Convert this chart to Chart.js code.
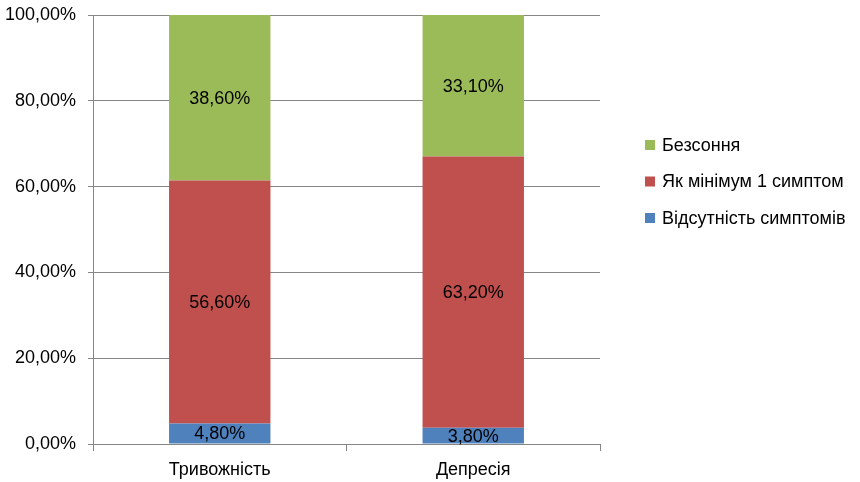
<!DOCTYPE html>
<html>
<head>
<meta charset="utf-8">
<script src="https://cdn.jsdelivr.net/npm/chart.js@4"></script>
<style>
  html, body { margin: 0; padding: 0; background: #fff; }
  #wrap { width: 860px; height: 482px; }
</style>
</head>
<body>
<div id="wrap"><canvas id="chart"></canvas></div>
<script>
const categories = ['Тривожність', 'Депресія'];
const seriesNames = ['Відсутність симптомів', 'Як мінімум 1 симптом', 'Безсоння'];
const noSymptoms = [4.8, 3.8];
const atLeastOne = [56.6, 63.2];
const insomnia = [38.6, 33.1];
const yTicks = [0, 20, 40, 60, 80, 100];
const colors = ['#4F81BD', '#C0504D', '#9BBB59'];

const FONT = '"Liberation Sans", Arial, sans-serif';

function pct(v) {
    return v.toFixed(2).replace('.', ',') + '%';
}

// labels in the middle of each segment
const segmentLabels = {
    id: 'segmentLabels',
    afterDatasetsDraw(chart) {
        const ctx = chart.ctx;
        ctx.save();
        ctx.font = '18px ' + FONT;
        ctx.fillStyle = '#000';
        ctx.textAlign = 'center';
        ctx.textBaseline = 'middle';
        chart.data.datasets.forEach((ds, i) => {
            chart.getDatasetMeta(i).data.forEach((bar, j) => {
                ctx.fillText(pct(ds.data[j]), bar.x, (bar.y + bar.base) / 2 + 1);
            });
        });
        ctx.restore();
    }
};

// legend on the right, top series first
const sideLegend = {
    id: 'sideLegend',
    afterDraw(chart) {
        const ctx = chart.ctx;
        const area = chart.chartArea;
        const x = area.right + 45;
        let y = area.top + 130;
        ctx.save();
        ctx.font = '18px ' + FONT;
        ctx.textBaseline = 'middle';
        ctx.textAlign = 'left';
        chart.data.datasets.slice().reverse().forEach(ds => {
            ctx.fillStyle = ds.backgroundColor;
            ctx.fillRect(x, y - 5, 10, 10);
            ctx.fillStyle = '#000';
            ctx.fillText(ds.label, x + 17, y + 1);
            y += 36.5;
        });
        ctx.restore();
    }
};

const datasets = [noSymptoms, atLeastOne, insomnia].map((data, i) => ({
    label: seriesNames[i],
    data: data,
    backgroundColor: colors[i],
    borderWidth: 0,
    categoryPercentage: 1,
    barPercentage: 0.4
}));

new Chart(document.getElementById('chart'), {
    type: 'bar',
    data: { labels: categories, datasets: datasets },
    plugins: [segmentLabels, sideLegend],
    options: {
        responsive: true,
        maintainAspectRatio: false,
        animation: false,
        layout: { padding: { top: 15, right: 260, left: 0, bottom: 0 } },
        plugins: {
            legend: { display: false },
            tooltip: { enabled: false }
        },
        scales: {
            x: {
                stacked: true,
                grid: {
                    offset: true,
                    drawOnChartArea: false,
                    color: '#868686',
                    tickLength: 7
                },
                border: { color: '#868686' },
                ticks: {
                    color: '#000',
                    font: { family: FONT, size: 18 },
                    padding: 8
                },
                afterFit(scale) {
                    scale.height = 38;
                    scale.paddingLeft = 0;
                    scale.paddingRight = 0;
                }
            },
            y: {
                stacked: true,
                min: 0,
                max: 100,
                afterBuildTicks(scale) {
                    scale.ticks = yTicks.map(v => ({ value: v }));
                },
                grid: {
                    color: '#868686',
                    tickLength: 5
                },
                border: { color: '#868686' },
                ticks: {
                    color: '#000',
                    font: { family: FONT, size: 18 },
                    padding: 12,
                    callback: v => pct(v)
                },
                afterFit(scale) {
                    scale.width = 93;
                    scale.paddingTop = 0;
                    scale.paddingBottom = 0;
                }
            }
        }
    }
});
</script>
</body>
</html>
